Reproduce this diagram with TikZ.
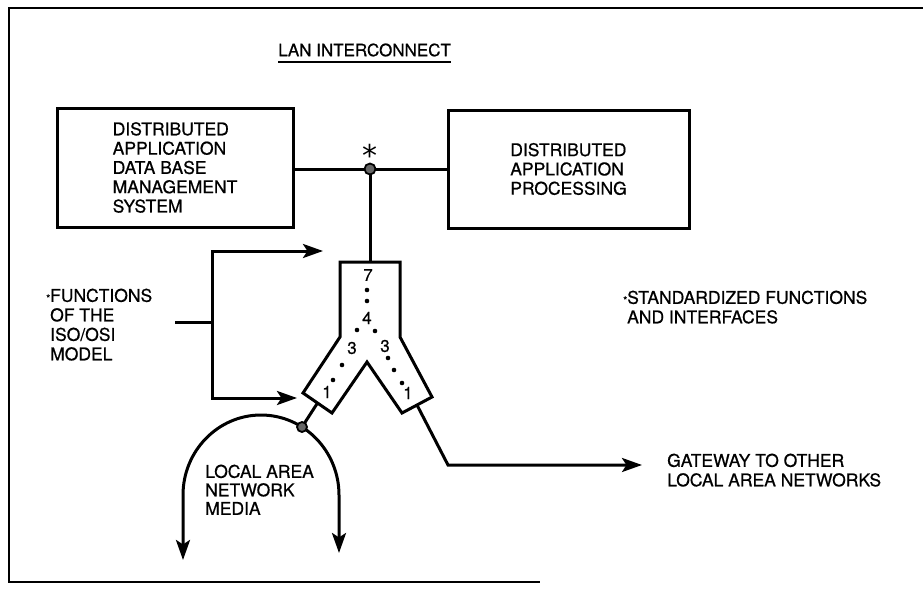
\documentclass[tikz,border=0pt]{standalone}
\usepackage{fontspec}
\setmainfont{TeX Gyre Heros}[FakeBold=0.7]
\newfontfamily\starfont{DejaVu Sans}
\usetikzlibrary{arrows.meta}
\begin{document}
\begin{tikzpicture}[x=1pt,y=-1pt,
  ln/.style={line width=3pt,line join=miter},
  tip/.style={-{Stealth[length=20pt,width=14pt,inset=4.5pt]}},
  arr/.style={ln,tip},
  lbl/.style={font=\fontsize{17.5}{19.5}\selectfont,align=left,inner sep=0pt,anchor=north west},
  boxtxt/.style={draw,line width=3pt,font=\fontsize{17.5}{19.3}\selectfont,align=left,inner sep=0pt},
  num/.style={font=\fontsize{17}{17}\selectfont,inner sep=0pt},
  pt/.style={fill=black,circle,inner sep=0pt,minimum size=4.6pt},
  junc/.style={circle,draw=black,fill=black!60,line width=1.8pt,inner sep=0pt,minimum size=11pt},
  frame/.style={line width=2.4pt}]
\useasboundingbox (0,0) rectangle (923,589);
% frame
\coordinate (f1) at (923,8);
\coordinate (f2) at (9,8);
\coordinate (f3) at (9,582);
\coordinate (f4) at (540,582);
\draw[frame] (f1) -- (f2) -- (f3) -- (f4);
% title
\node[font=\fontsize{17}{17}\selectfont,inner sep=0pt,anchor=west] (title) at (278,50) {LAN INTERCONNECT};
\draw[line width=2.2pt] ([yshift=-5pt]title.south west) -- ([yshift=-5pt]title.south east);
% boxes
\node[boxtxt,minimum width=236pt,minimum height=119pt] (lbox) at (175,167.5)
  {DISTRIBUTED\\APPLICATION\\DATA BASE\\MANAGEMENT\\SYSTEM};
\node[boxtxt,minimum width=241pt,minimum height=118pt] (rbox) at (568.5,169)
  {DISTRIBUTED\\APPLICATION\\PROCESSING};
% junction
\coordinate (j) at (370,169);
\coordinate (ytop) at (370,262);
\draw[ln] (lbox.east |- j) -- (j) -- (j -| rbox.west);
\draw[ln] (j) -- (ytop);
\node[junc] (jd) at (j) {};
\node[font=\starfont\fontsize{30}{30}\selectfont,inner sep=0pt] (star) at (370,155) {*};
% Y shape
\coordinate (y1) at (340,262);
\coordinate (y2) at (400,262);
\coordinate (y3) at (400,337);
\coordinate (y4) at (432,397);
\coordinate (y5) at (402,413);
\coordinate (y6) at (367,362);
\coordinate (y7) at (332,413);
\coordinate (y8) at (303,393);
\coordinate (y9) at (340,337);
\draw[ln] (y1) -- (y2) -- (y3) -- (y4) -- (y5) -- (y6) -- (y7) -- (y8) -- (y9) -- cycle;
\node[num] (n7) at (368,275) {7};
\node[pt] (d1) at (367,290) {};
\node[pt] (d2) at (367,301) {};
\node[num] (n4) at (367,318) {4};
\node[pt] (d3) at (357,330) {};
\node[pt] (d4) at (375,331) {};
\node[num] (n3l) at (352,348) {3};
\node[num] (n3r) at (385,346) {3};
\node[pt] (d5) at (342,365) {};
\node[pt] (d6) at (333,380) {};
\node[num] (n1l) at (327,392) {1};
\node[pt] (d7) at (388,358) {};
\node[pt] (d8) at (394,370) {};
\node[pt] (d9) at (402,383) {};
\node[num] (n1r) at (408,393) {1};
% feedback bracket
\coordinate (fs) at (175,322);
\coordinate (fm) at (212,322);
\coordinate (ft) at (212,251);
\coordinate (fte) at (323,251);
\coordinate (fb) at (212,398);
\coordinate (fbe) at (297,398);
\draw[ln] (fs) -- (fm);
\draw[arr] (fm) -- (ft) -- (fte);
\draw[arr] (fm) -- (fb) -- (fbe);
% LAN media
\coordinate (la) at (317.5,403);
\coordinate (ld) at (302,427);
\coordinate (mL) at (183,560);
\coordinate (mR) at (339,553);
\coordinate (aL) at (183,495);
\coordinate (aR) at (339,495);
\draw[ln] (la) -- (ld);
\draw[ln,{Stealth[length=20pt,width=14pt,inset=4.5pt]}-{Stealth[length=20pt,width=14pt,inset=4.5pt]}]
  (mL) -- (aL) .. controls (183,451) and (218,415) .. (261,415)
  .. controls (304,415) and (339,451) .. (aR) -- (mR);
\node[junc,minimum size=10pt] (ldot) at (ld) {};
% gateway
\coordinate (ra) at (417,405);
\coordinate (rc) at (448,465);
\coordinate (re) at (642,465);
\draw[arr] (ra) -- (rc) -- (re);
% labels
\node[lbl] (fn) at (50,288.5) {\llap{\fontsize{10}{10}\selectfont *}FUNCTIONS\\OF THE\\ISO/OSI\\MODEL};
\node[lbl] (sf) at (627,290.5) {\llap{\fontsize{10}{10}\selectfont *}STANDARDIZED FUNCTIONS\\AND INTERFACES};
\node[lbl] (gw) at (667,453.5) {GATEWAY TO OTHER\\LOCAL AREA NETWORKS};
\node[lbl,font=\fontsize{17.5}{18.5}\selectfont] (lm) at (205,464.5) {LOCAL AREA\\NETWORK\\MEDIA};
\end{tikzpicture}
\end{document}
